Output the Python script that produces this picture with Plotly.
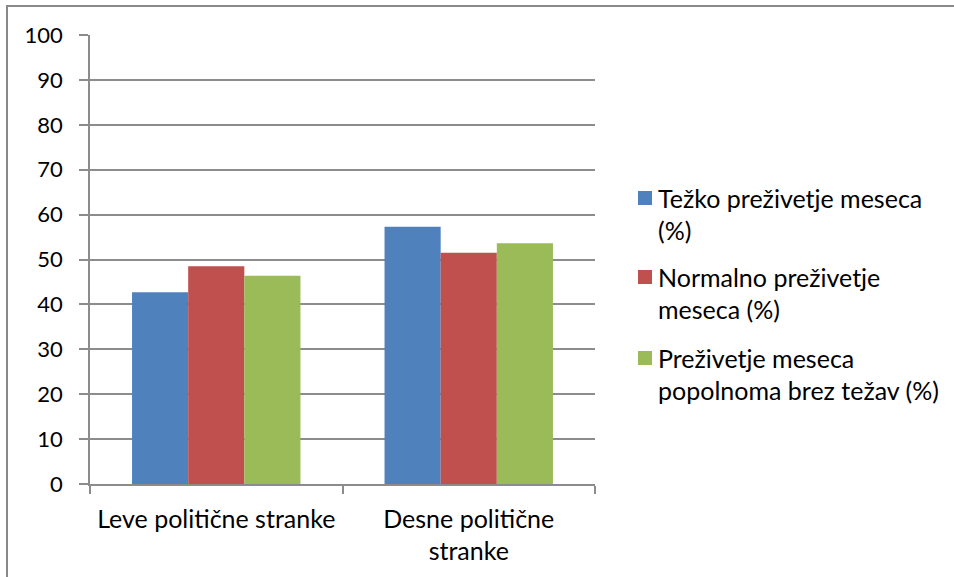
import plotly.graph_objects as go

categories = ["Leve politične stranke", "Desne politične<br>stranke"]
series_names = ["Težko preživetje meseca (%)", "Normalno preživetje meseca (%)",
                "Preživetje meseca popolnoma brez težav (%)"]
legend_lines = [["Težko preživetje meseca", "(%)"],
                ["Normalno preživetje", "meseca (%)"],
                ["Preživetje meseca", "popolnoma brez težav (%)"]]
tezko = [42.7, 57.3]
normalno = [48.5, 51.5]
brez_tezav = [46.4, 53.6]
y_ticks = list(range(0, 101, 10))
colors = ["#4F81BD", "#C0504D", "#9BBB59"]

W, H = 954, 577
L, R, T, B = 90, 595, 35, 484
FONT = "Lato"
FS = 25
TICK_FS = 22

fig = go.Figure()
for name, vals, c in zip(series_names, [tezko, normalno, brez_tezav], colors):
    fig.add_trace(go.Bar(x=categories, y=vals, name=name, marker_color=c,
                         marker_line_width=0, showlegend=False))

def px_x(px):
    return (px - L) / (R - L)

def px_y(py):
    return (B - py) / (B - T)

shapes = []
annotations = []
shapes.append(dict(type="rect", xref="paper", yref="paper",
                   x0=px_x(7), x1=px_x(975), y0=px_y(595), y1=px_y(6),
                   line=dict(color="#898989", width=2), fillcolor="rgba(0,0,0,0)", layer="below"))

marker_centers = [198, 277, 358]
for i, (lines, c) in enumerate(zip(legend_lines, colors)):
    cy = marker_centers[i]
    shapes.append(dict(type="rect", xref="paper", yref="paper",
                       x0=px_x(638), x1=px_x(652), y0=px_y(cy + 7), y1=px_y(cy - 7),
                       line=dict(width=0), fillcolor=c))
    for j, t in enumerate(lines):
        annotations.append(dict(xref="paper", yref="paper", x=px_x(656), y=px_y(cy + 32 * j),
                                xanchor="left", yanchor="middle", text=t, showarrow=False,
                                font=dict(family=FONT, size=FS, color="#000000")))

fig.update_layout(
    width=W, height=H,
    margin=dict(l=L, r=W - R, t=T, b=H - B, pad=0),
    paper_bgcolor="white", plot_bgcolor="white",
    barmode="group", bargap=0.333, bargroupgap=0,
    font=dict(family=FONT, size=FS, color="#000000"),
    shapes=shapes, annotations=annotations,
    showlegend=False,
)
fig.update_yaxes(range=[0, 100], tickvals=y_ticks, ticks="outside", ticklen=9,
                 tickcolor="#8c8c8c", tickwidth=1.5, tickfont=dict(size=TICK_FS),
                 showgrid=True, gridcolor="#8c8c8c", gridwidth=1.5,
                 showline=True, linecolor="#8c8c8c", linewidth=1.5,
                 zeroline=False, ticklabelstandoff=12, fixedrange=True)
fig.update_xaxes(ticks="outside", tickson="boundaries", ticklen=8,
                 tickcolor="#8c8c8c", tickwidth=1.5,
                 showline=True, linecolor="#8c8c8c", linewidth=1.5,
                 ticklabelstandoff=12, fixedrange=True)

fig.write_html("out.html", config={"displayModeBar": False},
               post_script="document.body.style.margin='0';document.body.style.overflow='hidden';")
